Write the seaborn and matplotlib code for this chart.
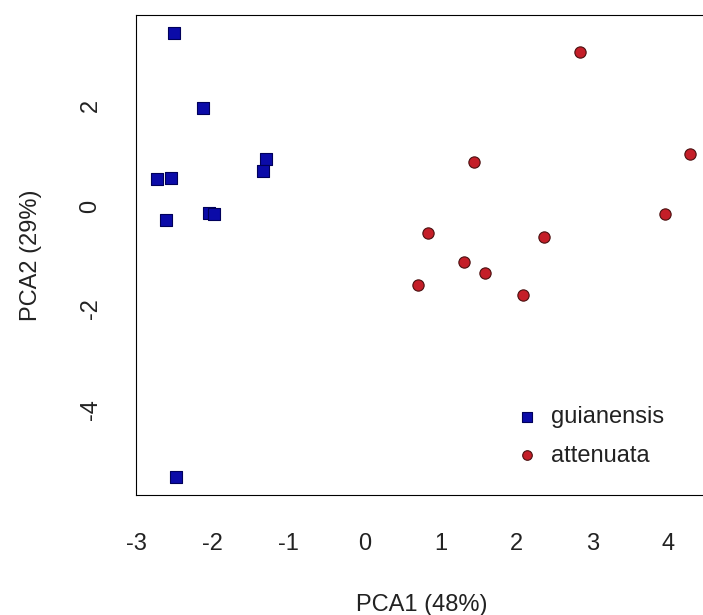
import matplotlib
matplotlib.use("Agg")
import matplotlib.pyplot as plt
import numpy as np
import pandas as pd
import seaborn as sns

# ---- data ----
guian_x = [-2.51, -2.13, -1.30, -1.34, -2.73, -2.55, -2.05, -1.98, -2.61, -2.49]
guian_y = [3.43, 1.95, 0.95, 0.70, 0.54, 0.57, -0.13, -0.15, -0.27, -5.33]
atten_x = [2.83, 1.44, 4.28, 3.96, 0.83, 2.36, 1.31, 1.58, 0.70, 2.09]
atten_y = [3.06, 0.89, 1.05, -0.14, -0.51, -0.59, -1.09, -1.31, -1.55, -1.74]
species_names = ["guianensis", "attenuata"]
x_ticks = [-3, -2, -1, 0, 1, 2, 3, 4]
y_ticks = [-4, -2, 0, 2]
x_label = "PCA1 (48%)"
y_label = "PCA2 (29%)"

df = pd.DataFrame({
    "PCA1": guian_x + atten_x,
    "PCA2": guian_y + atten_y,
    "species": [species_names[0]] * len(guian_x) + [species_names[1]] * len(atten_x),
})

sns.set_theme(style="white")
plt.rcParams["font.family"] = ["Liberation Sans", "DejaVu Sans"]
TXT = "#222222"
FS = 17

fig = plt.figure(figsize=(7.03, 6.15), dpi=100)
ax = fig.add_axes([136 / 703, 120 / 615, 575 / 703, 480 / 615])

sns.scatterplot(data=df[df.species == "guianensis"], x="PCA1", y="PCA2",
                marker="s", s=72, color="#0b0ba8", edgecolor="#00005a",
                linewidth=0.8, label="guianensis", ax=ax, zorder=3)
sns.scatterplot(data=df[df.species == "attenuata"], x="PCA1", y="PCA2",
                marker="o", s=66, color="#c41e28", edgecolor="#4a1010",
                linewidth=0.8, label="attenuata", ax=ax, zorder=3)

# R-style 4% axis extension
xmin, xmax = df.PCA1.min(), df.PCA1.max()
ymin, ymax = df.PCA2.min(), df.PCA2.max()
dx, dy = 0.04 * (xmax - xmin), 0.04 * (ymax - ymin)
ax.set_xlim(xmin - dx, xmax + dx)
ax.set_ylim(ymin - dy, ymax + dy)

ax.set_xticks(x_ticks)
ax.set_yticks(y_ticks)
ax.set_xticklabels([str(v) for v in x_ticks])
ax.set_yticklabels([str(v) for v in y_ticks])
ax.tick_params(axis="both", direction="out", length=10.8, width=0.8,
               color="black", labelsize=FS, labelcolor=TXT)
ax.tick_params(axis="x", pad=16.5)
ax.tick_params(axis="y", pad=14)
for t in ax.get_yticklabels():
    t.set_rotation(90)
    t.set_va("center")

for sp in ax.spines.values():
    sp.set_visible(True)
    sp.set_color("black")
    sp.set_linewidth(0.8)

ax.set_xlabel(x_label, fontsize=FS, color=TXT)
ax.set_ylabel(y_label, fontsize=FS, color=TXT)
ax.xaxis.set_label_coords(0.497, -0.206)
ax.yaxis.set_label_coords(-0.164, 0.5)

ax.legend(loc="center left", bbox_to_anchor=(0.6586, 0.1219), frameon=False,
          borderpad=0, borderaxespad=0, handlelength=1.0, handletextpad=0.53,
          labelspacing=0.69, markerscale=0.85, fontsize=FS, labelcolor=TXT)

fig.savefig("out.png", dpi=100)
